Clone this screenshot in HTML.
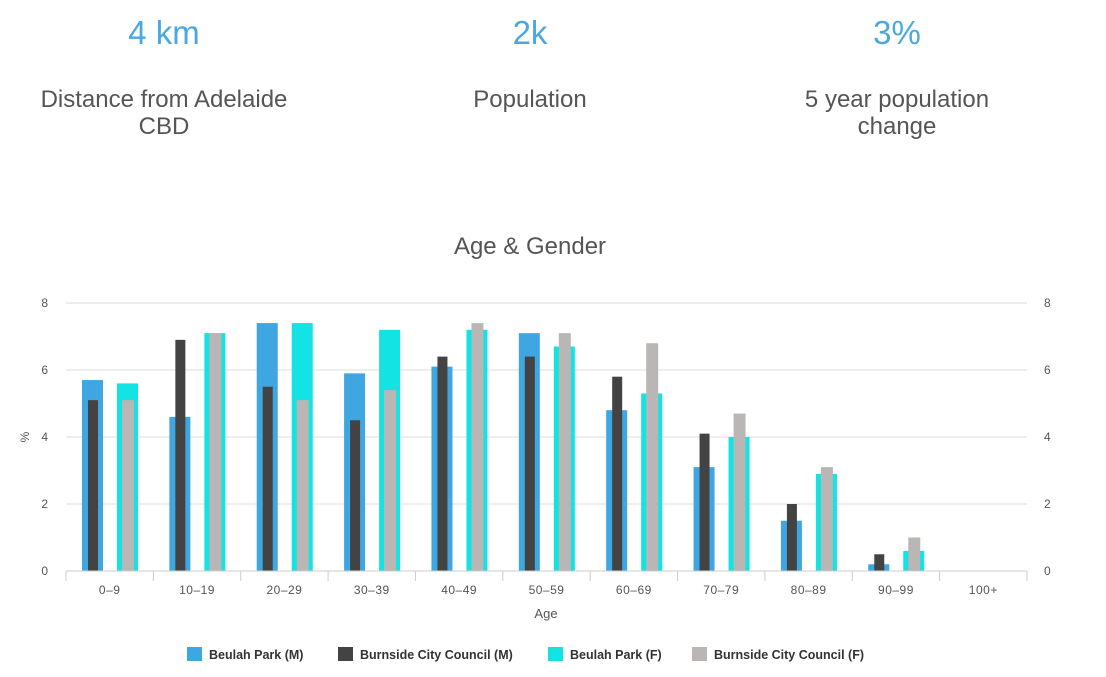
<!DOCTYPE html>
<html><head><meta charset="utf-8"><style>
body{margin:0;width:1106px;height:677px;background:#fff;font-family:"Liberation Sans",sans-serif;overflow:hidden;position:relative}
.stat{position:absolute;text-align:center;width:360px}
.big{color:#4aa8e0;font-size:33px;font-weight:300}
.lbl{color:#555;font-size:24px;line-height:27px}
</style></head><body>
<div class="stat" style="left:-16px;top:14px"><div class="big">4 km</div><div class="lbl" style="margin-top:34px">Distance from Adelaide<br>CBD</div></div>
<div class="stat" style="left:350px;top:14px"><div class="big">2k</div><div class="lbl" style="margin-top:34px">Population</div></div>
<div class="stat" style="left:717px;top:14px"><div class="big">3%</div><div class="lbl" style="margin-top:34px">5 year population<br>change</div></div>
<svg id="chart" width="1106" height="677" style="position:absolute;left:0;top:0"></svg>
<script>
const categories=["0-9","10-19","20-29","30-39","40-49","50-59","60-69","70-79","80-89","90-99","100+"];
const beulahM=[5.7,4.6,7.4,5.9,6.1,7.1,4.8,3.1,1.5,0.2,0];
const burnsideM=[5.1,6.9,5.5,4.5,6.4,6.4,5.8,4.1,2.0,0.5,0];
const beulahF=[5.6,7.1,7.4,7.2,7.2,6.7,5.3,4.0,2.9,0.6,0];
const burnsideF=[5.1,7.1,5.1,5.4,7.4,7.1,6.8,4.7,3.1,1.0,0];
const yTicks=[0,2,4,6,8];
const legendLabels=["Beulah Park (M)","Burnside City Council (M)","Beulah Park (F)","Burnside City Council (F)"];
const colors=["#3ea6e0","#434343","#13e3e3","#bbb6b6"];
const svg=document.getElementById('chart');const NS="http://www.w3.org/2000/svg";
const L=66,R=1027,T=303,B=571,ymax=8;
const y=v=>B-(v/ymax)*(B-T);
const bw=(R-L)/categories.length;
const x=i=>L+i*bw;
function mk(t,a,txt){const e=document.createElementNS(NS,t);for(const k in a)e.setAttribute(k,a[k]);if(txt!=null)e.textContent=txt;svg.appendChild(e);return e;}
let e=mk('text',{x:530,y:254,'text-anchor':'middle','font-size':24,fill:'#555'},'Age & Gender');


yTicks.forEach(v=>{
 if(v>0){e=mk('line',{x1:L,x2:R,y1:y(v),y2:y(v),stroke:'#dcdcdc','stroke-width':1});
 
 }
 e=mk('text',{x:48,y:y(v)+4,'text-anchor':'end','font-size':12,fill:'#555'},v);
 
 
 e=mk('text',{x:1044,y:y(v)+4,'text-anchor':'start','font-size':12,fill:'#555'},v);
 
 
});
e=mk('text',{x:29,y:437,'text-anchor':'middle','font-size':12,fill:'#555',transform:'rotate(-90 29 437)'},'%');


const series=[[beulahM,colors[0],16,21],[burnsideM,colors[1],22,10],[beulahF,colors[2],51,21],[burnsideF,colors[3],56,12]];
categories.forEach((c,i)=>{
 series.forEach((s,k)=>{
  const v=s[0][i];if(v<=0)return;
  e=mk('rect',{x:x(i)+s[2],y:y(v),width:s[3],height:B-y(v),fill:s[1]});
  
  
 });
 e=mk('line',{x1:x(i),x2:x(i),y1:B,y2:B+10,stroke:'#ccc'});
 
 
 e=mk('text',{x:x(i)+bw/2,y:594,'text-anchor':'middle','font-size':12,fill:'#555','letter-spacing':'0.5'},c.replace('-','–'));
 
 
});
e=mk('line',{x1:R,x2:R,y1:B,y2:B+10,stroke:'#ccc'});


e=mk('line',{x1:L,x2:R,y1:B,y2:B,stroke:'#ccc'});


e=mk('text',{x:546,y:618,'text-anchor':'middle','font-size':13,fill:'#555'},'Age');


const lx=[187,338,548,692];
legendLabels.forEach((t,k)=>{
 e=mk('rect',{x:lx[k],y:647,width:15,height:14,fill:colors[k]});
 
 
 e=mk('text',{x:lx[k]+22,y:659,'font-size':12.5,'font-weight':'bold',fill:'#333'},t);
 
 
});
</script>
</body></html>
